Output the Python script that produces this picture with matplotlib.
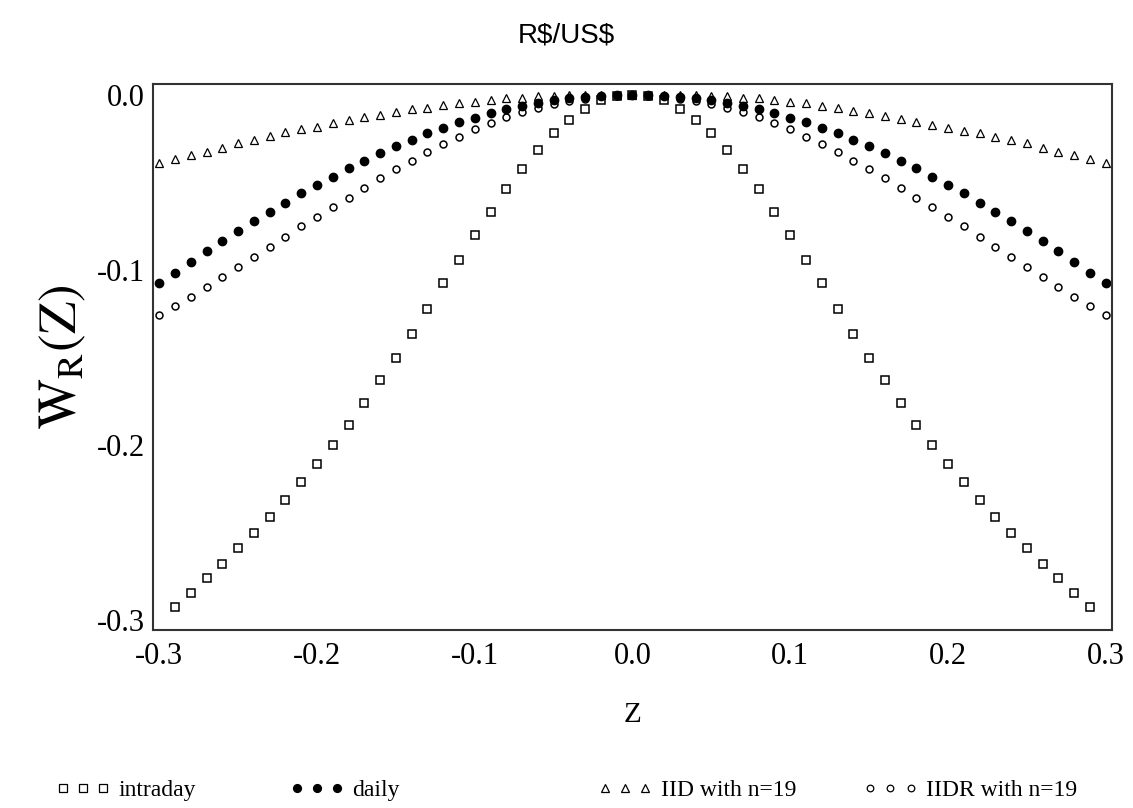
import numpy as np
import matplotlib
matplotlib.use("Agg")
import matplotlib.pyplot as plt
from matplotlib.lines import Line2D

plt.rcParams['font.family'] = ['Liberation Serif', 'DejaVu Serif']
plt.rcParams['mathtext.fontset'] = 'stix'

# Z grid, -0.30 .. 0.30 in steps of 0.01
z = np.round(np.arange(-30, 31) / 100.0, 2)

# intraday (hollow squares); the end points fall below the axis
w_intraday = [
    np.nan, -0.2926, -0.2844, -0.2760, -0.2676, -0.2589, -0.2501, -0.2410,
    -0.2314, -0.2211, -0.2109, -0.2000, -0.1882, -0.1758, -0.1630, -0.1499,
    -0.1364, -0.1219, -0.1076, -0.0943, -0.0800, -0.0667, -0.0539, -0.0425,
    -0.0314, -0.0219, -0.0143, -0.0082, -0.0029, -0.0005, 0.0000,
    -0.0005, -0.0029, -0.0082, -0.0143, -0.0219, -0.0314, -0.0425, -0.0539,
    -0.0667, -0.0800, -0.0943, -0.1076, -0.1219, -0.1364, -0.1499, -0.1630,
    -0.1758, -0.1882, -0.2000, -0.2109, -0.2211, -0.2314, -0.2410, -0.2501,
    -0.2589, -0.2676, -0.2760, -0.2844, -0.2926, np.nan,
]

# daily (filled circles)
w_daily = [
    -0.1076, -0.1015, -0.0952, -0.0890, -0.0834, -0.0777, -0.0720, -0.0667,
    -0.0615, -0.0562, -0.0514, -0.0467, -0.0415, -0.0375, -0.0333, -0.0291,
    -0.0257, -0.0219, -0.0190, -0.0156, -0.0133, -0.0105, -0.0082, -0.0063,
    -0.0047, -0.0029, -0.0019, -0.0010, -0.0003, 0.0000, 0.0003,
    0.0000, -0.0003, -0.0010, -0.0019, -0.0029, -0.0047, -0.0063, -0.0082,
    -0.0105, -0.0133, -0.0156, -0.0190, -0.0219, -0.0257, -0.0291, -0.0333,
    -0.0375, -0.0415, -0.0467, -0.0514, -0.0562, -0.0615, -0.0667, -0.0720,
    -0.0777, -0.0834, -0.0890, -0.0952, -0.1015, -0.1076,
]

# IID with n=19 (hollow triangles)
w_iid = [
    -0.0390, -0.0367, -0.0343, -0.0324, -0.0301, -0.0276, -0.0257, -0.0234,
    -0.0213, -0.0196, -0.0181, -0.0162, -0.0143, -0.0124, -0.0114, -0.0099,
    -0.0082, -0.0076, -0.0057, -0.0047, -0.0038, -0.0029, -0.0019, -0.0019,
    -0.0006, -0.0004, -0.0002, -0.0001, 0.0000, 0.0000, 0.0000,
    0.0000, 0.0000, -0.0001, -0.0002, -0.0004, -0.0006, -0.0019, -0.0019,
    -0.0029, -0.0038, -0.0047, -0.0063, -0.0076, -0.0090, -0.0101, -0.0120,
    -0.0139, -0.0152, -0.0171, -0.0190, -0.0206, -0.0219, -0.0238, -0.0257,
    -0.0276, -0.0301, -0.0324, -0.0343, -0.0367, -0.0390,
]

# IIDR with n=19 (hollow circles)
w_iidr = [
    -0.1257, -0.1206, -0.1152, -0.1095, -0.1038, -0.0981, -0.0924, -0.0867,
    -0.0810, -0.0749, -0.0695, -0.0638, -0.0587, -0.0528, -0.0476, -0.0425,
    -0.0375, -0.0324, -0.0280, -0.0238, -0.0196, -0.0158, -0.0124, -0.0095,
    -0.0076, -0.0051, -0.0032, -0.0020, -0.0010, -0.0003, 0.0000,
    -0.0003, -0.0010, -0.0020, -0.0032, -0.0051, -0.0076, -0.0095, -0.0124,
    -0.0158, -0.0196, -0.0238, -0.0280, -0.0324, -0.0375, -0.0425, -0.0476,
    -0.0528, -0.0587, -0.0638, -0.0695, -0.0749, -0.0810, -0.0867, -0.0924,
    -0.0981, -0.1038, -0.1095, -0.1152, -0.1206, -0.1257,
]

series_labels = ['intraday', 'daily', 'IID with n=19', 'IIDR with n=19']

fig = plt.figure(figsize=(11.33, 8.08), dpi=100)
ax = fig.add_axes([0.135, 0.2203, 0.8465, 0.6757])

styles = [
    dict(marker='s', ms=5.5, mfc='white', mec='black', mew=1.1),
    dict(marker='o', ms=6.0, mfc='black', mec='black', mew=1.0),
    dict(marker='^', ms=5.5, mfc='white', mec='black', mew=0.9),
    dict(marker='o', ms=5.0, mfc='white', mec='black', mew=1.1),
]
data = [w_intraday, w_daily, w_iid, w_iidr]

# draw triangles first so the filled circles sit on top near the peak
order = [2, 3, 0, 1]
handles = [None] * 4
for i in order:
    line, = ax.plot(z, data[i], linestyle='none', clip_on=True, **styles[i])
    handles[i] = line

ax.set_xlim(-0.304, 0.304)
ax.set_ylim(-0.3055, 0.0063)
ax.set_xticks([-0.3, -0.2, -0.1, 0.0, 0.1, 0.2, 0.3])
ax.set_yticks([-0.3, -0.2, -0.1, 0.0])
ax.set_xticklabels(['-0.3', '-0.2', '-0.1', '0.0', '0.1', '0.2', '0.3'])
ax.set_yticklabels(['-0.3', '-0.2', '-0.1', '0.0'])
ax.tick_params(axis='x', length=0, labelsize=22, pad=9)
ax.tick_params(axis='y', length=0, labelsize=22, pad=6)
for s in ax.spines.values():
    s.set_linewidth(1.5)
    s.set_color('#333333')

ax.set_xlabel('Z', fontsize=21, labelpad=22)
ax.set_ylabel(r'$\mathrm{W_R(Z)}$', fontsize=38, labelpad=6)

fig.text(0.5, 0.956, 'R\\$/US\\$', ha='center', va='center',
         fontsize=20, family=['Liberation Sans', 'DejaVu Sans'])

# legend entries spread along the bottom
legend_x = [0.049, 0.256, 0.528, 0.762]
for h, lab, x in zip(handles, series_labels, legend_x):
    proxy = Line2D([], [], linestyle='none', marker=h.get_marker(),
                   ms=h.get_markersize() * 0.95, mfc=h.get_markerfacecolor(),
                   mec='black', mew=0.9)
    fig.legend(handles=[proxy], labels=[lab], loc='center left',
               bbox_to_anchor=(x, 0.022), frameon=False, numpoints=3,
               handlelength=2.3, handletextpad=0.35, fontsize=17,
               borderaxespad=0, borderpad=0)

fig.savefig('out.png', dpi=100, facecolor='white')
